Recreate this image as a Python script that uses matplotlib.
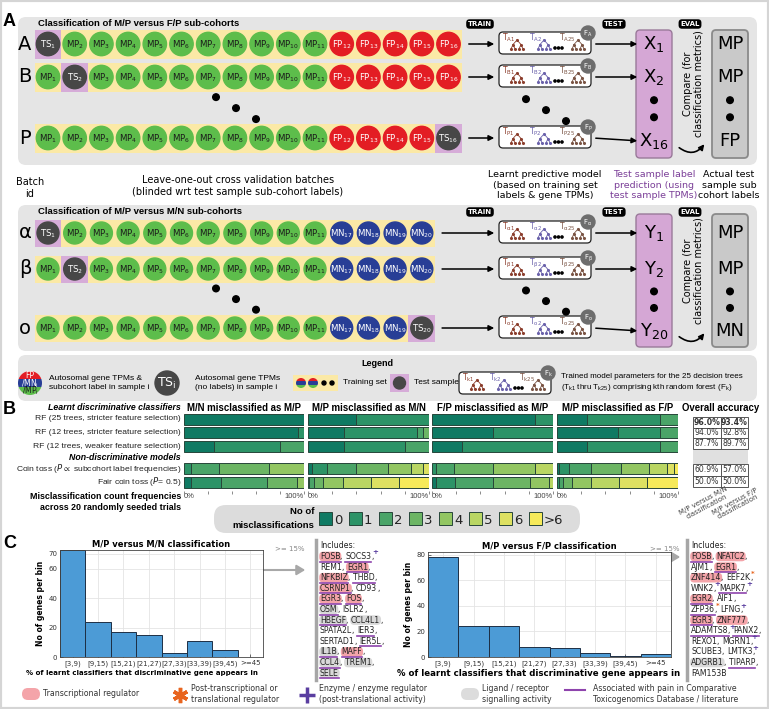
import numpy as np
import matplotlib
matplotlib.use('Agg')
import matplotlib.pyplot as plt
from matplotlib.patches import Circle, Rectangle, FancyBboxPatch, FancyArrowPatch, PathPatch
from matplotlib.path import Path

plt.rcParams['font.family'] = ['DejaVu Sans']
plt.rcParams['mathtext.default'] = 'regular'

# ---------------- data: panel A ----------------
top_batches = ['A', 'B', 'P']
top_samples = ['MP1', 'MP2', 'MP3', 'MP4', 'MP5', 'MP6', 'MP7', 'MP8', 'MP9', 'MP10', 'MP11',
               'FP12', 'FP13', 'FP14', 'FP15', 'FP16']
top_test = [0, 1, 15]
top_pred = ['1', '2', '16']
top_actual = ['MP', 'MP', 'FP']

bot_batches = ['\u03b1', '\u03b2', 'o']
bot_samples = ['MP1', 'MP2', 'MP3', 'MP4', 'MP5', 'MP6', 'MP7', 'MP8', 'MP9', 'MP10', 'MP11',
               'MN17', 'MN18', 'MN19', 'MN20']
bot_test = [0, 1, 14]
bot_pred = ['1', '2', '20']
bot_actual = ['MP', 'MP', 'MN']

# ---------------- data: panel B ----------------
count_labels = ['0', '1', '2', '3', '4', '5', '6', '>6']
classifier_labels = ['RF (25 trees, stricter feature selection)',
                     'RF (12 trees, stricter feature selection)',
                     'RF (12 trees, weaker feature selection)',
                     'Coin toss ($\\it{P}$$\\propto$ subcohort label frequencies)',
                     'Fair coin toss ($\\it{P}$= 0.5)']
group_titles = ['M/N misclassified as M/P', 'M/P misclassified as M/N',
                'F/P misclassified as M/P', 'M/P misclassified as F/P']
# % of trials with 0,1,2,...,6,>6 misclassifications
mn_as_mp = [[100], [95, 5], [25, 55, 20], [0, 6, 23, 42, 29], [6, 25, 38, 25, 6]]
mp_as_mn = [[40, 60], [30, 60, 5, 5], [30, 50, 20], [3, 13, 24, 26, 19, 10, 5],
            [0, 1, 4, 7, 17, 23, 23, 25]]
fp_as_mp = [[85, 15], [50, 50], [25, 75], [0, 3, 15, 32, 35, 15], [3, 16, 31, 31, 16, 3]]
mp_as_fp = [[25, 60, 15], [50, 35, 15], [25, 60, 15], [2, 8, 18, 25, 23, 15, 6, 3],
            [0, 2, 3, 7, 16, 23, 23, 26]]
acc_mn = ['96.0%', '94.0%', '87.7%', '60.9%', '50.0%']
acc_fp = ['93.4%', '92.8%', '89.7%', '57.0%', '50.0%']

# ---------------- data: panel C ----------------
bin_labels = ['[3,9)', '[9,15)', '[15,21)', '[21,27)', '[27,33)', '[33,39)', '[39,45)', '>=45']
genes_per_bin_mn = [73, 24, 17, 15, 3, 11, 5, 0]
genes_per_bin_fp = [78, 24, 24, 8, 7, 3, 1, 2]
# tags: T transcriptional (pink), L ligand/receptor (grey), U pain (underline), + enzyme, * post-transcr.
genes_mn = [[('FOSB', 'TU'), ('SOCS3', 'U+')],
            [('REM1', ''), ('EGR1', 'TU')],
            [('NFKBIZ', 'TU'), ('THBD', 'U')],
            [('CSRNP1', 'TU'), ('CD93', '')],
            [('EGR3', 'TU'), ('FOS', 'TU')],
            [('OSM', 'LU'), ('ISLR2', '')],
            [('HBEGF', 'LU'), ('CCL4L1', 'L')],
            [('SPATA2L', ''), ('IER3', 'U')],
            [('SERTAD1', ''), ('IER5L', 'U')],
            [('IL1B', 'LU'), ('MAFF', 'TU')],
            [('CCL4', 'LU'), ('TREM1', 'L')],
            [('SELE', 'LU')]]
genes_fp = [[('FOSB', 'TU'), ('NFATC2', 'T')],
            [('AJM1', ''), ('EGR1', 'TU')],
            [('ZNF414', 'T'), ('EEF2K', '*')],
            [('WNK2', '+'), ('MAPK7', 'U+')],
            [('EGR2', 'TU'), ('AIF1', '')],
            [('ZFP36', 'U*'), ('LFNG', '+')],
            [('EGR3', 'TU'), ('ZNF777', 'T')],
            [('ADAMTS8', 'U+'), ('PANX2', 'U')],
            [('REXO1', ''), ('MGRN1', '+')],
            [('SCUBE3', ''), ('LMTK3', '+')],
            [('ADGRB1', 'L'), ('TIPARP', 'U')],
            [('FAM153B', '')]]

# ---------------- styling ----------------
SAMPLE_COL = {'MP': '#5dbd4b', 'FP': '#e31d24', 'MN': '#283e96', 'TS': '#474747'}
SAMPLE_TXT = {'MP': '#1b1b1b', 'FP': 'white', 'MN': 'white', 'TS': 'white'}
CAT_COL = ['#0f7a63', '#2c9367', '#4aa468', '#6cb564', '#92c662', '#b9d663', '#dde162', '#f6ea5a']
BOX_GREY = '#e5e5e5'
LILAC = '#d6acd8'
YELLOW = '#fbe9a6'
ARIAL = 'Liberation Sans'

W, H = 769, 709
fig = plt.figure(figsize=(W / 100, H / 100), dpi=100)
ax = fig.add_axes([0, 0, 1, 1])
ax.set_xlim(0, W)
ax.set_ylim(H, 0)
ax.axis('off')
ren = fig.canvas.get_renderer()


def px_axes(x0, y0, x1, y1):
    return fig.add_axes([x0 / W, 1 - y1 / H, (x1 - x0) / W, (y1 - y0) / H])


def sub(main, s):
    return r'$\mathregular{%s_{%s}}$' % (main, s)


def rbox(x, y, w, h, fc, ec='none', lw=1, r=6, z=1):
    ax.add_patch(FancyBboxPatch((x, y), w, h, boxstyle='round,pad=0,rounding_size=%g' % r,
                                fc=fc, ec=ec, lw=lw, zorder=z))


def tree(x, y, col):
    kids = [(x - 4, y + 4.5), (x + 4, y + 4.5)]
    leaves = [(x - 6, y + 9), (x - 2, y + 9), (x + 2, y + 9), (x + 6, y + 9)]
    for k in kids:
        ax.plot([x, k[0]], [y, k[1]], color=col, lw=0.6, zorder=4)
    for i, l in enumerate(leaves):
        k = kids[i // 2]
        ax.plot([k[0], l[0]], [k[1], l[1]], color=col, lw=0.6, zorder=4)
    pts = [(x, y)] + kids + leaves
    ax.scatter([p[0] for p in pts], [p[1] for p in pts], s=5, color=col, zorder=5, lw=0)


def model_box(x0, y0, k, w=92, h=22):
    rbox(x0, y0, w, h, 'white', '#222222', 0.9, 4, 3)
    cols = ['#8c3f2e', '#6b62ab', '#7a5444']
    for j, (dx, idx) in enumerate([(3, '1'), (30, '2'), (60, '25')]):
        ax.text(x0 + dx, y0 + 6, sub('T', k + idx), fontsize=5.5, color=cols[j],
                va='center', ha='left', zorder=5)
        tree(x0 + dx + 15 + (4 if j == 2 else 0), y0 + 8, cols[j])
    for dx in (56, 59.5, 63):
        ax.add_patch(Circle((x0 + dx, y0 + 16), 1.1, color='black', zorder=5))
    ax.add_patch(Circle((x0 + w - 3, y0 + 1), 7, color='#6d6d6d', zorder=6))
    ax.text(x0 + w - 3, y0 + 1.5, sub('F', k), fontsize=5, color='white', ha='center',
            va='center', zorder=7)


def tag(x, y, s):
    ax.text(x, y, s, fontsize=5, color='white', fontweight='bold', ha='center', va='center',
            zorder=6, bbox=dict(boxstyle='round,pad=0.25,rounding_size=0.5', fc='black', ec='none'))


def cohort_panel(ytop, ybot, title, ys, batches, samples, tests, preds, pl, actual, r, band_h,
                 ctop, cbot):
    rbox(18, ytop, 739, ybot - ytop, BOX_GREY, r=8, z=0)
    ax.text(38, ytop + 6, title, fontsize=6.8, fontweight='bold', family=ARIAL, va='center')
    step, x0 = 26.7, 48
    band_l = x0 - 13.5
    band_r = x0 + (len(samples) - 1) * step + 13.5
    for row, y in enumerate(ys):
        ax.text(25, y, batches[row], fontsize=14, ha='center', va='center')
        ax.add_patch(Rectangle((band_l, y - band_h / 2), band_r - band_l, band_h, fc=YELLOW,
                               ec='none', zorder=1))
        for i, s in enumerate(samples):
            cx = x0 + i * step
            kind, num = s[:2], s[2:]
            if i == tests[row]:
                ax.add_patch(Rectangle((cx - step / 2, y - band_h / 2), step, band_h, fc=LILAC,
                                       ec='none', zorder=2))
                kind = 'TS'
            ax.add_patch(Circle((cx, y), r, color=SAMPLE_COL[kind], zorder=3))
            ax.text(cx, y + 0.5, sub(kind, num), fontsize=6.2, color=SAMPLE_TXT[kind],
                    ha='center', va='center', zorder=4)
        # arrows to model and to prediction
        ax.add_patch(FancyArrowPatch((band_r + 4, y), (497, y), arrowstyle='-|>',
                                     mutation_scale=8, lw=1.1, color='black', zorder=3))
        model_box(499, y - 12, batches[row])
        yp = y + (3 if row == 2 else 0)
        ax.add_patch(FancyArrowPatch((593, y), (640, yp), arrowstyle='-|>', mutation_scale=8,
                                     lw=1.1, color='black', zorder=5))
        ax.text(654, yp, sub(pl, preds[row]), fontsize=13, ha='center', va='center', zorder=5)
        ax.text(730, yp, actual[row], fontsize=13, ha='center', va='center', zorder=5)
    # dots between rows
    yb = ys[1]
    gap = ys[2] - ys[1]
    for j, f in enumerate((0.33, 0.51, 0.69)):
        ax.add_patch(Circle((216 + 20 * j, yb + f * gap), 3.3, color='black', zorder=3))
        ax.add_patch(Circle((526 + 20 * j, yb + f * gap + 2), 3.3, color='black', zorder=3))
    for f in (0.38, 0.66):
        ax.add_patch(Circle((654, yb + f * gap), 3.3, color='black', zorder=5))
        ax.add_patch(Circle((730, yb + f * gap), 3.3, color='black', zorder=5))
    rbox(636, ctop, 36, cbot - ctop, '#d5a7d5', '#9a7a9a', 1, 4, 2)
    rbox(712, ctop, 36, cbot - ctop, '#c9c9c9', '#8a8a8a', 1.3, 4, 2)
    tag(480, ytop + 7, 'TRAIN')
    tag(614, ytop + 7, 'TEST')
    tag(690, ytop + 7, 'EVAL')
    ax.text(693, (ctop + cbot) / 2 - 10, 'Compare (for\nclassification metrics)', rotation=90,
            fontsize=7, ha='center', va='center', linespacing=1.1)
    ax.add_patch(FancyArrowPatch((677, cbot - 12), (706, cbot - 16), arrowstyle='-|>',
                                 connectionstyle='arc3,rad=0.55', mutation_scale=8, lw=1.2,
                                 color='black', zorder=5))


# ---------------- panel A ----------------
ax.add_patch(Rectangle((0, 0), W, H, fill=False, ec='#d5d5d5', lw=3))
ax.text(3, 21, 'A', fontsize=13, fontweight='bold', family=ARIAL, va='center')
cohort_panel(17, 165, 'Classification of M/P versus F/P sub-cohorts', [44, 77, 138],
             top_batches, top_samples, top_test, top_pred, 'X', top_actual, 11.7, 29, 30, 158)
ax.text(30, 188, 'Batch\nid', fontsize=7, ha='center', va='center', linespacing=1.25)
ax.text(238, 186, 'Leave-one-out cross validation batches\n(blinded wrt test sample sub-cohort labels)',
        fontsize=7, ha='center', va='center', linespacing=1.25)
ax.text(545, 185, 'Learnt predictive model\n(based on training set\nlabels & gene TPMs)',
        fontsize=6.8, ha='center', va='center', linespacing=1.2)
ax.text(654, 185, 'Test sample label\nprediction (using\ntest sample TPMs)', fontsize=6.8,
        ha='center', va='center', color='#7b3f98', linespacing=1.2)
ax.text(729, 185, 'Actual test\nsample sub\ncohort labels', fontsize=6.8, ha='center',
        va='center', linespacing=1.2)
cohort_panel(205, 351, 'Classification of M/P versus M/N sub-cohorts', [233, 269, 328],
             bot_batches, bot_samples, bot_test, bot_pred, 'Y', bot_actual, 11, 27, 214, 347)

# legend box
rbox(18, 355, 739, 46, BOX_GREY, r=8, z=0)
ax.text(377, 363, 'Legend', fontsize=6.5, fontweight='bold', family=ARIAL, ha='center', va='center')
ly = 383
circ = Circle((30, ly), 12, color='none')
ax.add_patch(circ)
for k, (kind, y0) in enumerate([('FP', ly - 12), ('MN', ly - 4), ('MP', ly + 4)]):
    rr = Rectangle((17, y0), 26, 8, fc=SAMPLE_COL[kind], ec='none', zorder=3)
    ax.add_patch(rr)
    rr.set_clip_path(circ)
ax.text(30, ly - 7.5, 'FP', fontsize=5.5, color='white', ha='center', va='center', zorder=4)
ax.text(30, ly + 0.5, sub('/MN', 'i'), fontsize=5.5, color='white', ha='center', va='center', zorder=4)
ax.text(30, ly + 8, sub('/MP', 'i'), fontsize=5.5, color='#1b1b1b', ha='center', va='center', zorder=4)
ax.text(49, ly, 'Autosomal gene TPMs &\nsubcohort label in sample i', fontsize=6, family=ARIAL,
        va='center', linespacing=1.3)
ax.add_patch(Circle((167, ly), 12, color=SAMPLE_COL['TS'], zorder=3))
ax.text(167, ly, sub('TS', 'i'), fontsize=9, color='white', ha='center', va='center', zorder=4)
ax.text(195, ly, 'Autosomal gene TPMs\n(no labels) in sample i', fontsize=6, family=ARIAL,
        va='center', linespacing=1.3)
ax.add_patch(Rectangle((293, ly - 8), 45, 16, fc=YELLOW, ec='none', zorder=2))
for cx in (301, 313):
    c = Circle((cx, ly), 5, color='none')
    ax.add_patch(c)
    for kind, y0 in [('FP', ly - 5), ('MN', ly - 1.7), ('MP', ly + 1.6)]:
        rr = Rectangle((cx - 5, y0), 10, 3.4, fc=SAMPLE_COL[kind], ec='none', zorder=3)
        ax.add_patch(rr)
        rr.set_clip_path(c)
for cx in (324, 332):
    ax.add_patch(Circle((cx, ly), 2, color='black', zorder=3))
ax.text(343, ly, 'Training set', fontsize=6, family=ARIAL, va='center')
ax.add_patch(Rectangle((390, ly - 9), 19, 18, fc=LILAC, ec='none', zorder=2))
ax.add_patch(Circle((399.5, ly), 6, color=SAMPLE_COL['TS'], zorder=3))
ax.text(414, ly, 'Test sample', fontsize=6, family=ARIAL, va='center')
model_box(459, ly - 11, 'k')
ax.text(561, ly, 'Trained model parameters for the 25 decision trees\n'
        '(%s thru %s) comprising kth random forest (%s)' % (sub('T', 'k1'), sub('T', 'k25'), sub('F', 'k')),
        fontsize=5.8, family=ARIAL, va='center', linespacing=1.35)

# ---------------- panel B ----------------
ax.text(3, 409, 'B', fontsize=13, fontweight='bold', family=ARIAL, va='center')
row_y = [419, 432.5, 446.5, 468.5, 482]
ax.text(181, 408, 'Learnt discriminative classifiers', fontsize=6.3, fontweight='bold',
        style='italic', family=ARIAL, ha='right', va='center')
ax.text(181, 458, 'Non-discriminative models', fontsize=6.3, fontweight='bold', style='italic',
        family=ARIAL, ha='right', va='center')
for lab, y in zip(classifier_labels, row_y):
    ax.text(181, y, lab, fontsize=6.1, family=ARIAL, ha='right', va='center', color='#222')
ax.text(181, 502, 'Misclassification count frequencies\nacross 20 randomly seeded trials',
        fontsize=6.4, fontweight='bold', family=ARIAL, ha='right', va='center', linespacing=1.3)

groups = [mn_as_mp, mp_as_mn, fp_as_mp, mp_as_fp]
gx = [(184, 304), (308, 429), (432, 553), (557, 678)]
for g, (xa, xb) in enumerate(gx):
    bax = px_axes(xa, 412, xb, 491)
    bax.set_xlim(0, 100)
    bax.set_ylim(491, 412)
    arr = np.zeros((len(row_y), len(count_labels)))
    for r, seg in enumerate(groups[g]):
        arr[r, :len(seg)] = seg
    lefts = np.cumsum(arr, axis=1) - arr
    for c in range(len(count_labels)):
        m = arr[:, c] > 0
        bax.barh(np.array(row_y)[m], arr[m, c], left=lefts[m, c], height=11, color=CAT_COL[c],
                 edgecolor='#27463a', linewidth=0.7)
    for s in bax.spines.values():
        s.set_visible(False)
    bax.set_yticks([])
    bax.set_xticks([0, 20, 40, 60, 80, 100])
    bax.set_xticklabels([])
    bax.tick_params(axis='x', length=2, width=0.6, color='#777777', pad=0)
    bax.patch.set_alpha(0)
    ax.text(xa, 497, '0%', fontsize=5.5, color='#444', ha='left', va='center', family=ARIAL)
    ax.text(xb, 497, '100%', fontsize=5.5, color='#444', ha='right', va='center', family=ARIAL)
    ax.text((xa + xb) / 2, 408, group_titles[g], fontsize=6.9, fontweight='bold', family=ARIAL,
            ha='center', va='center')
ax.text(721, 408, 'Overall accuracy', fontsize=6.9, fontweight='bold', family=ARIAL,
        ha='center', va='center')

# accuracy table
ax.add_patch(Rectangle((693, 448), 55, 16, fc='#e0e0e0', ec='none'))
cell_y = [(417, 427.5), (427.5, 438), (438, 448.5), (464, 475.5), (475.5, 487)]
for r, (ya, yb2) in enumerate(cell_y):
    for xa, vals in [(693, acc_mn), (720.5, acc_fp)]:
        ax.add_patch(Rectangle((xa, ya), 27.5, yb2 - ya, fc='white', ec='#555555', lw=0.7))
        ax.text(xa + 13.75, (ya + yb2) / 2, vals[r], fontsize=5.6, color='#333',
                fontweight='bold' if r == 0 else 'normal', ha='center', va='center')
ax.text(705, 504, 'M/P versus M/N\nclassification', fontsize=5, rotation=28, ha='center',
        va='center', color='#444', linespacing=1.1)
ax.text(736, 504, 'M/P versus F/P\nclassification', fontsize=5, rotation=28, ha='center',
        va='center', color='#444', linespacing=1.1)

# count legend
rbox(214, 505, 366, 28, '#dcdcdc', r=12, z=0)
ax.text(314, 511, 'No of', fontsize=6.8, fontweight='bold', family=ARIAL, ha='right', va='center')
ax.text(314, 525, 'misclassifications', fontsize=6.8, fontweight='bold', family=ARIAL,
        ha='right', va='center')
for c, lab in enumerate(count_labels):
    xs = 319 + 30 * c
    ax.add_patch(Rectangle((xs, 512), 13, 13, fc=CAT_COL[c], ec='#27463a', lw=0.7))
    ax.text(xs + 15, 520, lab, fontsize=9.5, ha='left', va='center', color='#222')

# ---------------- panel C ----------------
ax.text(3, 544, 'C', fontsize=13, fontweight='bold', family=ARIAL, va='center')


def brace(xa, xb, xc, yb, ym, yt, r=8):
    verts = [(xa, yb), (xa, ym + r), (xa, ym), (xa + r, ym), (xc - r, ym), (xc, ym), (xc, yt),
             (xc, ym), (xc + r, ym), (xb - r, ym), (xb, ym), (xb, ym + r), (xb, yb)]
    codes = [Path.MOVETO, Path.LINETO, Path.CURVE3, Path.CURVE3, Path.LINETO, Path.CURVE3,
             Path.CURVE3, Path.CURVE3, Path.CURVE3, Path.LINETO, Path.CURVE3, Path.CURVE3,
             Path.LINETO]
    ax.add_patch(PathPatch(Path(verts, codes), fc='none', ec='#b3b3b3', lw=4.5,
                           capstyle='round', joinstyle='round', zorder=6))


def gene_list(x0, y0, lines, fs=5.6):
    ax.plot([x0 - 4, x0 - 4], [y0 - 5, y0 + 135], color='#a6a6a6', lw=2.5)
    ax.text(x0, y0, 'Includes:', fontsize=fs, va='center', color='#222')
    for li, toks in enumerate(lines):
        y = y0 + 11.5 + li * 10.6
        x = x0
        for ti, (g, tags) in enumerate(toks):
            t = ax.text(x, y, g, fontsize=fs, va='center', ha='left', color='#222', zorder=5)
            w = t.get_window_extent(ren).width
            if 'T' in tags or 'L' in tags:
                fc = '#f4a4a9' if 'T' in tags else '#d9d9d9'
                ax.add_patch(FancyBboxPatch((x, y - 4), w, 8, boxstyle='round,pad=0.8,rounding_size=4',
                                            fc=fc, ec='none', zorder=3))
            if 'U' in tags:
                ax.plot([x, x + w], [y + 5, y + 5], color='#8e44ad', lw=1.2, zorder=4)
            x += w
            for mark, col in (('+', '#5a3ea0'), ('*', '#e8641e')):
                if mark in tags:
                    ax.text(x + 0.5, y - 4, mark, fontsize=5, fontweight='bold', color=col,
                            ha='left', va='center', zorder=6)
            if not (li == len(lines) - 1 and ti == len(toks) - 1):
                t2 = ax.text(x, y, ', ' if ti < len(toks) - 1 else ',', fontsize=fs, va='center',
                             ha='left', color='#222', zorder=5)
                x += t2.get_window_extent(ren).width


hist_specs = [(genes_per_bin_mn, (60, 550, 263, 657), [0, 20, 40, 60, 70], 72.7,
               'M/P versus M/N classification', (115, 258, 188), 300, genes_mn, 320, 142, 5.0),
              (genes_per_bin_fp, (428, 552, 671, 657), [0, 20, 40, 60, 80], 82,
               'M/P versus F/P classification', (485, 628, 556), 675, genes_fp, 691, 539, 6.2)]
for (counts, (xa, ya, xb, yb), yt, ymax, title, (ba, bb, bc), xarr, glist, gx0,
     xlab_c, xlab_fs) in hist_specs:
    hax = px_axes(xa, ya, xb, yb)
    hax.bar(range(len(counts)), counts, width=1, color='#4c9bd6', edgecolor='#1d2f44', lw=0.7)
    hax.set_xlim(-0.5, len(counts) - 0.5)
    hax.set_ylim(0, ymax)
    hax.set_xticks(range(len(counts)))
    hax.set_xticklabels(bin_labels, fontsize=4.8)
    hax.set_yticks(yt)
    hax.set_axisbelow(True)
    hax.grid(True, color='#e4e4e4', lw=0.6)
    hax.tick_params(direction='in', length=2, labelsize=5, colors='#333', width=0.5, pad=2)
    for s in hax.spines.values():
        s.set_linewidth(0.6)
        s.set_color('#444')
    hax.set_ylabel('No of genes per bin', fontsize=5.5, fontweight='bold', labelpad=2)
    ax.text((xa + xb) / 2, ya - 6, title, fontsize=6, fontweight='bold', ha='center', va='center')
    ax.text(xlab_c, 673, '% of learnt classifiers that discriminative gene appears in',
            fontsize=xlab_fs, fontweight='bold', ha='center', va='center')
    brace(ba, bb, bc, 603, 588, 577)
    ytop_line = 570 if xa < 300 else 557
    ax.plot([bc, bc], [577, ytop_line], color='#a8a8a8', lw=1.5, zorder=6)
    ax.add_patch(FancyArrowPatch((bc - 0.7, ytop_line), (xarr + 8, ytop_line),
                                 arrowstyle='-|>,head_length=5,head_width=3', lw=1.5,
                                 color='#a8a8a8', zorder=6))
    ax.text(xarr + 10 - 20, 549, '>= 15%', fontsize=5, color='#888', ha='center', va='center')
    gene_list(gx0, 545, glist)

# bottom legend
ly = 694
rbox(22, ly - 6, 18, 12, '#f4a4a9', r=6)
ax.text(43, ly, 'Transcriptional regulator', fontsize=5.6, va='center', color='#333')
ax.plot([180], [ly + 1], marker=(6, 2, 0), ms=11, mew=2.5, color='#e8641e')
ax.text(191, ly, 'Post-transcriptional or\ntranslational regulator', fontsize=5.6, va='center',
        color='#333', linespacing=1.3)
ax.plot([307], [ly + 1], marker='+', ms=11, mew=2.5, color='#5a3ea0')
ax.text(319, ly, 'Enzyme / enzyme regulator\n(post-translational activity)', fontsize=5.6,
        va='center', color='#333', linespacing=1.3)
rbox(461, ly - 6, 18, 12, '#dcdcdc', r=6)
ax.text(482, ly, 'Ligand / receptor\nsignalling activity', fontsize=5.6, va='center',
        color='#333', linespacing=1.3)
ax.plot([565, 585], [ly - 4, ly - 4], color='#8e44ad', lw=1.5)
ax.text(593, ly, 'Associated with pain in Comparative\nToxicogenomics Database / literature',
        fontsize=5.6, va='center', color='#333', linespacing=1.3)

fig.savefig('out.png', dpi=100)
